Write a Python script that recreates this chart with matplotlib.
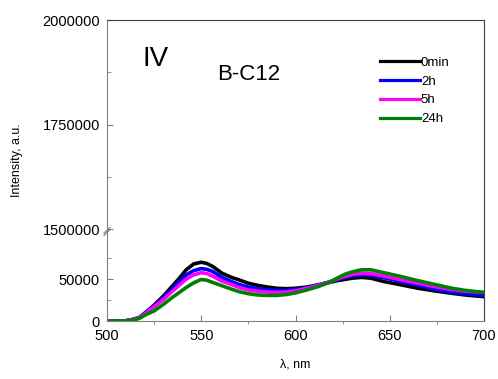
import numpy as np
import matplotlib.pyplot as plt
from matplotlib.lines import Line2D

plt.rcParams['font.family'] = ['Liberation Sans', 'DejaVu Sans']

# wavelength points (nm)
wl = [500, 505, 510, 513, 517, 521, 525, 530, 534, 538, 542, 546, 550, 553, 556,
      561, 566, 570, 575, 580, 585, 590, 595, 600, 606, 612, 618, 622, 626, 630,
      635, 640, 647, 655, 665, 675, 683, 690, 700]

i_0min = [0, 0, 300, 1500, 4000, 11000, 19000, 30000, 40000, 50000, 61000, 68000,
          70000, 68500, 65000, 57000, 52000, 49000, 45000, 42500, 40500, 39000,
          38500, 39000, 40500, 43000, 46000, 48000, 49500, 51000, 52000, 51000,
          47000, 43500, 39000, 35500, 33000, 31000, 29000]
i_2h = [0, 0, 300, 1500, 4000, 11000, 18000, 28000, 37000, 46000, 55000, 60000,
        62500, 61500, 59000, 52000, 47000, 43500, 40500, 38500, 37000, 36500,
        36500, 37500, 39500, 43000, 46500, 49500, 52000, 54000, 55000, 54500,
        51500, 47500, 42500, 37500, 34500, 32500, 30500]
i_5h = [0, 0, 300, 1500, 4000, 10000, 17000, 26000, 34000, 42000, 50000, 55000,
        57500, 56500, 53500, 47500, 43500, 40000, 37000, 35500, 34500, 34000,
        34500, 36000, 39000, 42500, 46500, 50000, 53000, 55500, 57000, 56500,
        53500, 49500, 45000, 40500, 37500, 35500, 34000]
i_24h = [0, 0, 200, 1000, 3000, 8000, 12000, 20000, 27000, 33500, 40000, 45500,
         49500, 48500, 46000, 42000, 38000, 35000, 32500, 31000, 30500, 30500,
         31500, 33500, 37000, 41000, 46000, 51000, 55500, 58500, 61000, 61000,
         57500, 53500, 48000, 43000, 39000, 36500, 34000]

labels = ['0min', '2h', '5h', '24h']
colors = ['black', '#0000ff', '#ff00ff', '#008000']
series = [i_0min, i_2h, i_5h, i_24h]

fig = plt.figure(figsize=(4.98, 3.79), dpi=100)
left, width = 0.2149, 0.757
ax_lo = fig.add_axes([left, 0.1530, width, 0.2348])
ax_hi = fig.add_axes([left, 0.3878, width, 0.5594])

for y, c, lab in zip(series, colors, labels):
    ax_lo.plot(wl, y, color=c, lw=2.6, label=lab)
    ax_hi.plot([], [], color=c, lw=2.3, label=lab)

ax_lo.set_xlim(500, 700)
ax_hi.set_xlim(500, 700)
ax_lo.set_ylim(0, 106000)
ax_hi.set_ylim(1492800, 2000000)

ax_lo.set_xticks([500, 550, 600, 650, 700])
ax_lo.set_xticks([525, 575, 625, 675], minor=True)
ax_lo.set_yticks([0, 50000])
ax_lo.set_yticks([25000, 75000], minor=True)
ax_hi.set_yticks([1500000, 1750000, 2000000])
ax_hi.set_yticks([1625000, 1875000], minor=True)
ax_hi.set_xticks([])
ax_hi.ticklabel_format(axis='y', style='plain', useOffset=False)

gray = '#808080'
dark = '#404040'
for ax in (ax_lo, ax_hi):
    ax.spines['left'].set_color(gray)
    ax.spines['right'].set_color(dark)
    ax.spines['top'].set_color(dark)
    ax.spines['bottom'].set_color(gray)
    ax.tick_params(axis='y', which='major', direction='in', length=4, color=gray,
                   labelsize=10.5, pad=5)
    ax.tick_params(axis='y', which='minor', direction='in', length=3, color=gray)
ax_lo.spines['top'].set_visible(False)
ax_hi.spines['bottom'].set_visible(False)
ax_lo.tick_params(axis='x', which='major', direction='in', length=4, color=gray,
                  labelsize=10.5, pad=6)
ax_lo.tick_params(axis='x', which='minor', direction='out', length=2, color=gray)

# break marks on the left axis
for dy in (-0.006, 0.0):
    fig.add_artist(Line2D([left - 0.006, left + 0.006], [0.385 + dy, 0.400 + dy],
                          color=gray, lw=0.9))

ax_lo.set_xlabel('λ, nm', fontsize=9, labelpad=11)
fig.text(0.034, 0.578, 'Intensity, a.u.', rotation=90, fontsize=9,
         ha='center', va='center')

ax_hi.text(0.128, 0.815, 'IV', transform=ax_hi.transAxes, fontsize=20,
           ha='center', va='center')
ax_hi.text(0.375, 0.745, 'B-C12', transform=ax_hi.transAxes, fontsize=16,
           ha='center', va='center')

ax_hi.legend(loc='upper left', bbox_to_anchor=(0.71, 0.853), frameon=False,
             fontsize=9.5, handlelength=3.0, handletextpad=0.1, labelspacing=0.5,
             borderaxespad=0)

fig.savefig('out.png', dpi=100)
